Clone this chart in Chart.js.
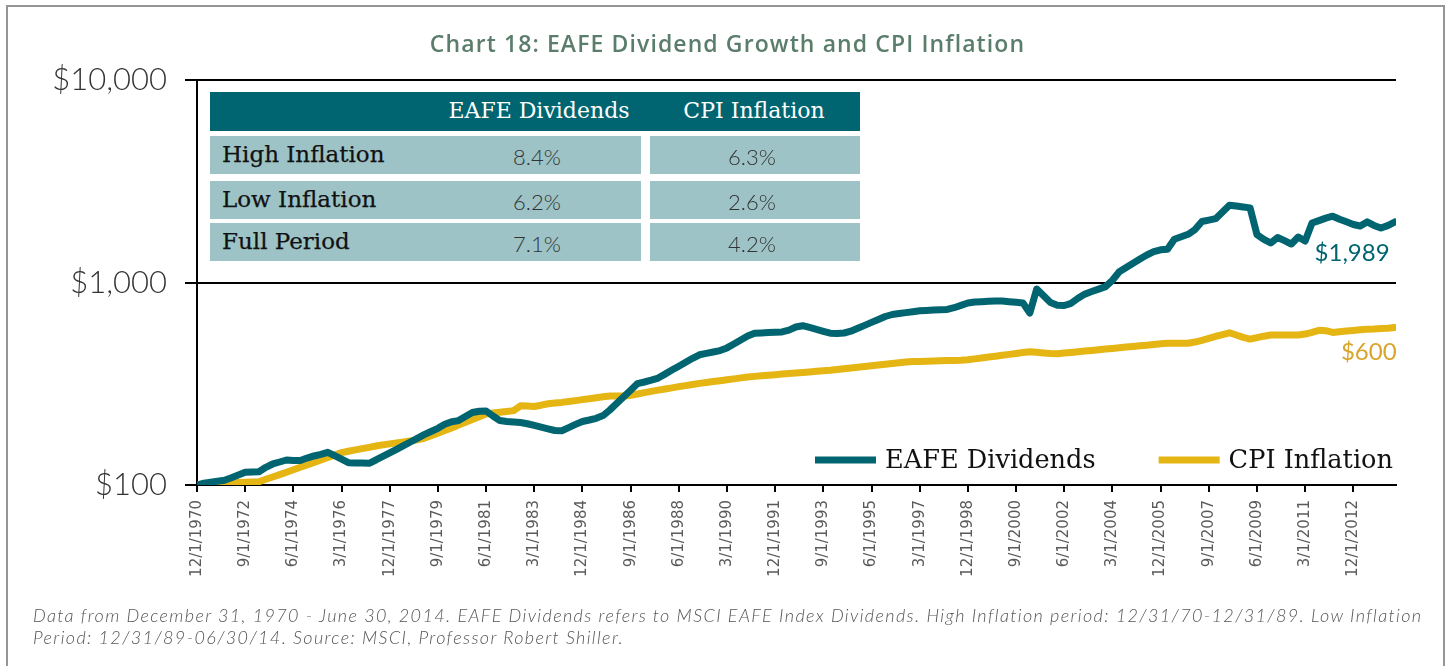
<!DOCTYPE html>
<html>
<head>
<meta charset="utf-8">
<script src="https://cdn.jsdelivr.net/npm/chart.js@4.4.1/dist/chart.umd.min.js"></script>
<style>
  html, body { margin: 0; padding: 0; background: #ffffff; }
  #wrap { position: relative; width: 1451px; height: 666px; overflow: hidden; background: #fff; }
  #frame { position: absolute; left: 6px; top: 5px; width: 1439px; height: 700px; border: 2.5px solid #959595; box-sizing: border-box; }
  #chart { position: absolute; left: 0; top: 0; }
  #title { position: absolute; left: 0; width: 1455px; top: 27px; text-align: center; font-family: 'Open Sans', sans-serif; font-weight: 600; font-size: 23px; letter-spacing: 1.1px; color: #5b7d6b; }
  #tbl { position: absolute; left: 210px; top: 92px; width: 650px; }
  .hdr { position: absolute; left: 0; top: 0; width: 650px; height: 39px; background: #006570; }
  .cell { position: absolute; height: 38px; background: #9dc3c7; }
  .t { position: absolute; white-space: nowrap; }
  .h { font-family: 'DejaVu Serif', serif; font-size: 22px; color: #fff; top: 6px; transform: translateX(-50%); }
  .rl { font-family: 'DejaVu Serif', serif; font-size: 23px; color: #111; -webkit-text-stroke: 0.25px #111; left: 12px; top: 5px; }
  .v { font-family: 'Lato', sans-serif; font-weight: 300; font-size: 22px; color: #333; top: 7px; transform: translateX(-50%); }
  #foot { position: absolute; left: 33px; top: 604px; font-family: 'Lato', sans-serif; font-style: italic; font-weight: 300; font-size: 18px; letter-spacing: 1.36px; line-height: 22px; color: #555; white-space: nowrap; }
</style>
</head>
<body>
<div id="wrap">
  <div id="frame"></div>
  <canvas id="chart" width="1451" height="666"></canvas>
  <div id="title">Chart 18: EAFE Dividend Growth and CPI Inflation</div>
  <div id="tbl"></div>
  <div id="foot"></div>
</div>
<script>
// ---------------- data ----------------
const tickLabels = ['12/1/1970','9/1/1972','6/1/1974','3/1/1976','12/1/1977','9/1/1979','6/1/1981','3/1/1983',
  '12/1/1984','9/1/1986','6/1/1988','3/1/1990','12/1/1991','9/1/1993','6/1/1995','3/1/1997','12/1/1998',
  '9/1/2000','6/1/2002','3/1/2004','12/1/2005','9/1/2007','6/1/2009','3/1/2011','12/1/2012'];
const quartersPerTick = 7;

const seriesNames = ['EAFE Dividends', 'CPI Inflation'];

// Quarterly values, 12/1/1970 - 6/1/2014 (growth of $100)
const eafeDividends = [
  100, 102.1, 103.2, 104.4, 105.6, 108.7, 112.0, 115.5, 115.9, 116.3,
  122.3, 127.0, 129.9, 132.9, 132.0, 132.1, 135.9, 139.1, 141.6, 145.0,
  139.5, 134.1, 128.9, 128.6, 128.3, 128.0, 132.9, 138.3, 143.9, 149.9,
  156.4, 163.1, 169.9, 177.2, 183.8, 190.5, 199.6, 205.4, 208.0, 217.9,
  228.0, 231.4, 232.0, 219.2, 208.0, 205.9, 204.7, 203.6, 200.7, 196.9,
  193.1, 189.4, 185.8, 185.4, 192.0, 199.2, 205.9, 209.4, 213.5, 220.2,
  234.9, 253.2, 272.9, 293.9, 316.8, 322.6, 329.3, 337.3, 352.9, 369.4,
  386.2, 404.2, 422.5, 439.6, 446.6, 453.8, 461.1, 475.4, 497.0, 520.1,
  544.3, 561.9, 563.8, 566.4, 568.3, 570.3, 582.1, 603.0, 611.9, 599.6,
  586.8, 574.2, 561.9, 560.6, 563.2, 574.8, 594.2, 614.0, 635.3, 656.6,
  679.4, 695.0, 702.2, 710.2, 717.5, 725.7, 728.2, 731.5, 734.0, 736.5,
  750.9, 770.8, 792.1, 801.2, 803.9, 807.6, 811.3, 810.3, 803.9, 798.4,
  792.1, 707.0, 928.8, 859.6, 796.6, 772.6, 770.0, 789.4, 836.5, 876.4,
  902.0, 927.8, 954.5, 1025.3, 1129.4, 1186.0, 1244.1, 1306.4, 1367.2, 1419.5,
  1450.5, 1458.8, 1636.3, 1681.6, 1730.1, 1824.9, 2001, 2033, 2066, 2229,
  2408, 2384, 2360, 2336, 1722, 1632, 1567, 1668, 1610, 1549,
  1678, 1603, 1967, 2022, 2080, 2125, 2054, 1994, 1934, 1901,
  1992, 1914, 1858, 1910, 1989
];
const cpiInflation = [
  100, 100.5, 100.8, 101.4, 101.8, 102.3, 102.8, 103.1, 103.5, 103.8,
  106.7, 109.6, 112.5, 115.7, 118.9, 122.3, 125.7, 129.1, 132.9, 136.7,
  140.5, 144.5, 146.8, 149.0, 151.2, 153.5, 155.8, 157.8, 159.6, 161.4,
  163.3, 165.2, 167.1, 170.1, 175.2, 180.4, 185.8, 191.4, 197.6, 204.0,
  210.6, 217.4, 224.4, 226.5, 228.6, 230.6, 233.0, 246.1, 245.3, 244.2,
  247.8, 252.0, 254.0, 255.8, 258.4, 261.1, 264.0, 266.8, 269.8, 272.6,
  275.1, 275.1, 275.1, 277.0, 281.4, 285.7, 290.0, 294.2, 298.0, 301.7,
  305.9, 309.7, 313.6, 317.6, 320.8, 324.1, 327.4, 330.8, 334.2, 338.1,
  341.5, 343.9, 346.2, 348.6, 350.6, 352.9, 354.9, 357.3, 359.8, 361.8,
  364.3, 366.8, 368.9, 371.9, 375.3, 378.3, 381.8, 384.8, 387.9, 391.4,
  394.6, 397.7, 401.4, 404.6, 406.9, 407.8, 408.8, 409.7, 410.6, 411.6,
  412.5, 413.4, 415.3, 419.6, 423.9, 428.2, 432.6, 437.1, 441.6, 446.1,
  450.7, 455.4, 452.2, 448.7, 445.6, 444.6, 448.2, 451.7, 454.8, 458.5,
  461.6, 465.3, 469.1, 472.3, 476.0, 479.8, 483.1, 487.0, 490.3, 494.3,
  498.2, 501.1, 501.1, 501.1, 501.1, 508.0, 518.3, 529.7, 541.2, 552.4,
  564.5, 550.5, 535.7, 525.4, 534.5, 543.1, 550.5, 550.5, 550.5, 550.5,
  550.5, 556.2, 567.7, 580.7, 578.1, 567.0, 570.9, 575.4, 579.4, 584.0,
  588.0, 589.4, 592.1, 594.1, 600
];
const yTickValues = [100, 1000, 10000];

// Summary table
const tableColumns = ['EAFE Dividends', 'CPI Inflation'];
const tableRows = ['High Inflation', 'Low Inflation', 'Full Period'];
const eafeRates = ['8.4%', '6.2%', '7.1%'];
const cpiRates = ['6.3%', '2.6%', '4.2%'];

const footnoteLines = [
  'Data from December 31, 1970 - June 30, 2014. EAFE Dividends refers to MSCI EAFE Index Dividends. High Inflation period: 12/31/70-12/31/89. Low Inflation',
  'Period: 12/31/89-06/30/14. Source: MSCI, Professor Robert Shiller.'
];

const COLORS = { eafe: '#006570', cpi: '#e5b513', cpiLabel: '#d9a52b' };

// ---------------- table & footnote (HTML text) ----------------
(function buildTable() {
  const t = document.getElementById('tbl');
  let html = '<div class="hdr"></div>';
  html += '<div class="t h" style="left:329px">' + tableColumns[0] + '</div>';
  html += '<div class="t h" style="left:544px">' + tableColumns[1] + '</div>';
  const rowTops = [44, 89, 131];
  tableRows.forEach((r, i) => {
    const top = rowTops[i];
    html += '<div class="cell" style="left:0;width:431px;top:' + top + 'px"><div class="t rl">' + r + '</div>' +
            '<div class="t v" style="left:327px">' + eafeRates[i] + '</div></div>';
    html += '<div class="cell" style="left:440px;width:210px;top:' + top + 'px">' +
            '<div class="t v" style="left:102px">' + cpiRates[i] + '</div></div>';
  });
  t.innerHTML = html;
  document.getElementById('foot').innerHTML = footnoteLines.join('<br>');
})();

// ---------------- plugins ----------------
const legendPlugin = {
  id: 'customLegend',
  afterDatasetsDraw(chart) {
    const ctx = chart.ctx;
    ctx.save();
    ctx.font = '25.6px "DejaVu Serif"';
    ctx.textBaseline = 'middle';
    const y = 460;
    let x = 815;
    chart.data.datasets.forEach((ds) => {
      ctx.fillStyle = ds.borderColor;
      ctx.fillRect(x, y - 3.5, 61, 7);
      x += 70;
      ctx.fillStyle = '#111';
      ctx.fillText(ds.label, x, y + 1);
      x += ctx.measureText(ds.label).width + 63;
    });
    ctx.restore();
  }
};

const endLabelPlugin = {
  id: 'endLabels',
  afterDatasetsDraw(chart) {
    const ctx = chart.ctx;
    ctx.save();
    ctx.font = '400 24px Lato';
    ctx.textAlign = 'right';
    ctx.textBaseline = 'middle';
    const offs = [{dx: -5, dy: 31, color: COLORS.eafe}, {dx: 2, dy: 25, color: COLORS.cpiLabel}];
    chart.data.datasets.forEach((ds, i) => {
      const meta = chart.getDatasetMeta(i);
      const pt = meta.data[meta.data.length - 1];
      const val = ds.data[ds.data.length - 1].y;
      ctx.fillStyle = offs[i].color;
      ctx.fillText('$' + Math.round(val).toLocaleString('en-US'), pt.x + offs[i].dx, pt.y + offs[i].dy);
    });
    ctx.restore();
  }
};

// ---------------- chart ----------------
function makeChart() {
  const toPts = arr => arr.map((v, i) => ({x: i, y: v}));
  new Chart(document.getElementById('chart'), {
    type: 'line',
    data: {
      datasets: [
        { label: seriesNames[0], data: toPts(eafeDividends), borderColor: COLORS.eafe, borderWidth: 7,
          pointRadius: 0, tension: 0, borderJoinStyle: 'round', borderCapStyle: 'round', fill: false },
        { label: seriesNames[1], data: toPts(cpiInflation), borderColor: COLORS.cpi, borderWidth: 7,
          pointRadius: 0, tension: 0, borderJoinStyle: 'round', borderCapStyle: 'round', fill: false }
      ]
    },
    options: {
      responsive: false,
      maintainAspectRatio: false,
      animation: false,
      devicePixelRatio: 1,
      layout: { padding: { left: 0, top: 80, right: 55, bottom: 81 } },
      plugins: { legend: { display: false }, tooltip: { enabled: false }, title: { display: false } },
      scales: {
        x: {
          type: 'linear',
          min: 0,
          max: eafeDividends.length - 1 + 0.2,
          afterFit: s => { s.height = 100; },
          afterBuildTicks: s => {
            s.ticks = tickLabels.map((_, i) => ({ value: i * quartersPerTick }));
          },
          ticks: {
            autoSkip: false,
            maxRotation: 90,
            minRotation: 90,
            padding: 8,
            color: '#5a5a5a',
            font: { family: 'DejaVu Sans', size: 15 },
            callback: v => tickLabels[Math.round(v / quartersPerTick)] || ''
          },
          grid: { drawOnChartArea: false, drawTicks: true, tickLength: 7, color: '#000', lineWidth: 2 },
          border: { display: true, color: '#000', width: 2 }
        },
        y: {
          type: 'logarithmic',
          min: yTickValues[0],
          max: yTickValues[yTickValues.length - 1],
          afterFit: s => { s.width = 197; },
          afterBuildTicks: s => { s.ticks = yTickValues.map(v => ({ value: v })); },
          ticks: {
            padding: 18,
            color: '#333',
            font: { family: 'Lato', size: 31, weight: '300' },
            callback: v => '$' + Number(v).toLocaleString('en-US')
          },
          grid: { color: '#000', lineWidth: 2, drawTicks: true, tickLength: 12 },
          border: { display: true, color: '#000', width: 2 }
        }
      }
    },
    plugins: [legendPlugin, endLabelPlugin]
  });
}

const fontLoads = ['300 31px Lato', '400 24px Lato', '25.6px "DejaVu Serif"', '15px "DejaVu Sans"'].map(f => document.fonts.load(f).catch(() => null));
Promise.all(fontLoads).then(makeChart, makeChart);
</script>
</body>
</html>
